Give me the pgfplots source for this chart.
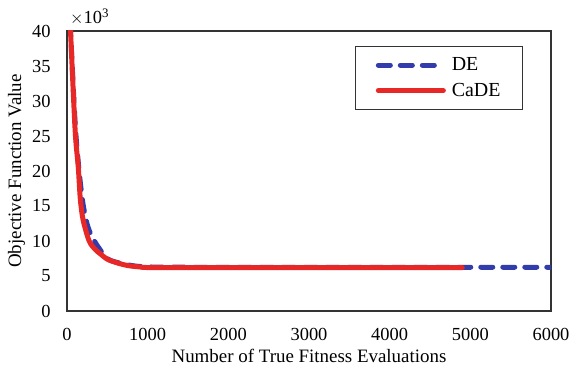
\documentclass[border=0pt]{standalone}
\usepackage{pgfplots}
\pgfplotsset{compat=1.18}
\usepackage{fontspec}
\setmainfont{Liberation Serif}
\definecolor{deblue}{RGB}{50,60,170}
\definecolor{cadered}{RGB}{232,40,38}
\begin{document}
\begin{tikzpicture}[x=1bp,y=1bp]
\path[use as bounding box] (-67,-65) rectangle (506,311);
\begin{axis}[
  at={(0,0)}, anchor=origin,
  scale only axis, width=484bp, height=280bp,
  xmin=0, xmax=6000, ymin=0, ymax=40,
  xtick={0,1000,...,6000}, ytick={0,5,...,40},
  major tick length=0pt,
  scaled x ticks=false,
  xticklabel style={/pgf/number format/1000 sep={}, yshift=-14bp},
  yticklabel style={xshift=-13bp},
  /pgf/number format/assume math mode=true,
  tick label style={font=\fontsize{18.5}{20}\selectfont},
  axis line style={draw=black!80, line width=1.2pt},
  xlabel={Number of True Fitness Evaluations},
  ylabel={Objective Function Value},
  label style={font=\fontsize{19}{21}\selectfont},
  xlabel style={yshift=-1bp},
  ylabel style={yshift=0bp},
  clip=true,
  legend style={at={(0.942,0.945)}, anchor=north east, draw=black!80, line width=0.8pt,
    font=\fontsize{20}{22}\selectfont, inner xsep=20bp, inner ysep=9bp, row sep=7bp},
  legend cell align=left,
  legend image code/.code={\draw[#1] (0bp,0bp) -- (65bp,0bp);},
]
\addplot[deblue, line width=5bp, line cap=round, dash pattern=on 12bp off 10bp, smooth, tension=0.5] coordinates {
(40,41)(100,27)(150,20)(200,15.2)(260,12)(350,9.8)(490,7.6)(600,7)(800,6.5)(1000,6.3)(1500,6.25)(3000,6.25)(6000,6.25)};
\addlegendentry{\hspace{4bp}DE}
\addplot[cadered, line width=5bp, line cap=round, smooth, tension=0.5] coordinates {
(40,41)(100,26)(140,20.5)(165,16)(200,13)(275,10)(350,8.8)(410,8.2)(500,7.4)(615,6.9)(750,6.5)(900,6.3)(1100,6.2)(2500,6.2)(4900,6.2)};
\addlegendentry{\hspace{4bp}CaDE}
\end{axis}
\node[anchor=south west, font=\fontsize{18.5}{20}\selectfont, inner sep=0pt] at (3,286) {$\times$10\textsuperscript{3}};
\end{tikzpicture}
\end{document}
